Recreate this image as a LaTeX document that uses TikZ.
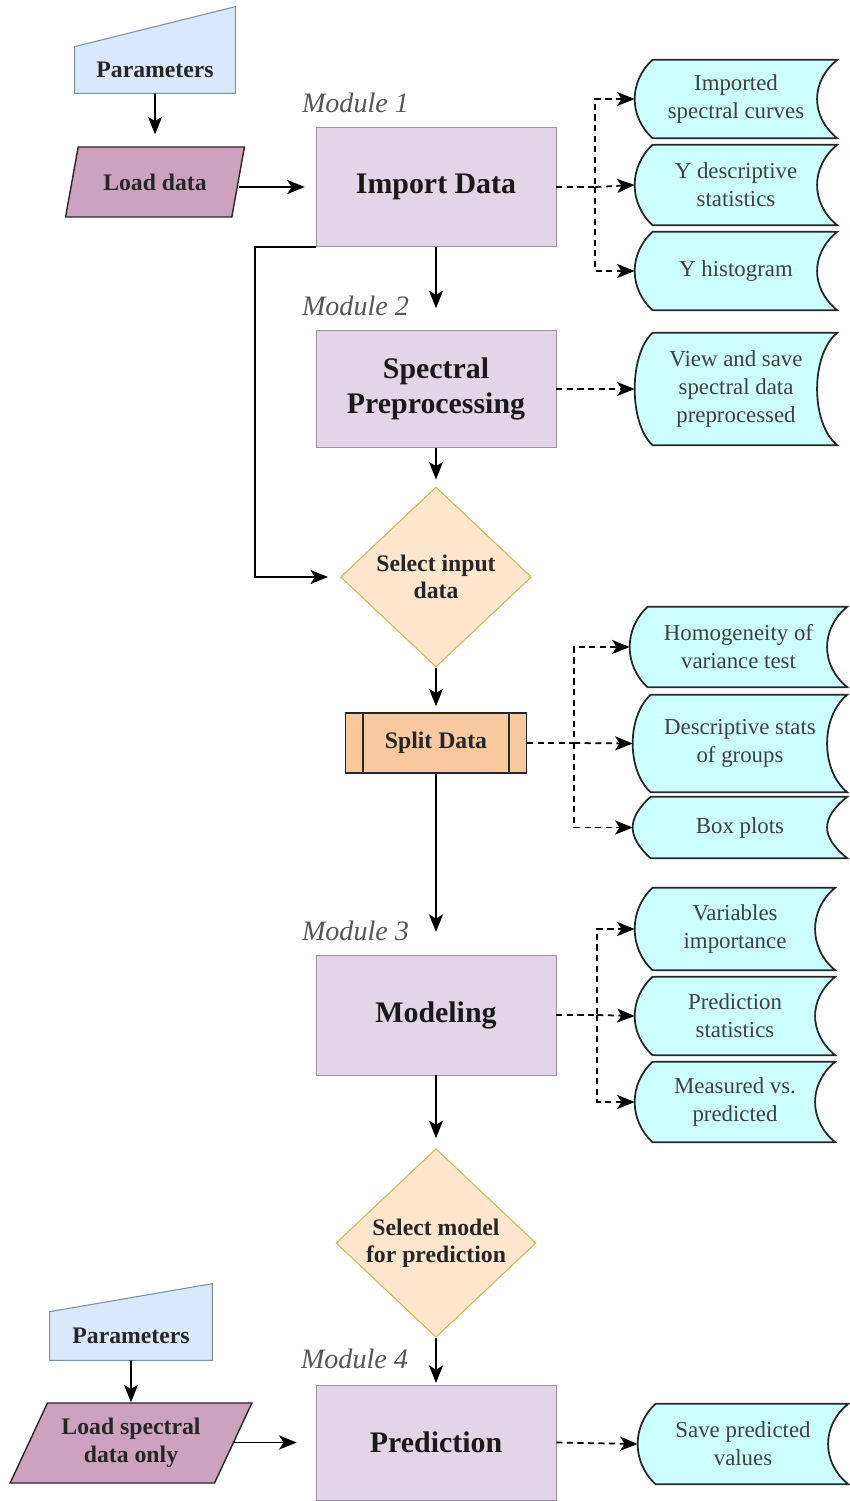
\documentclass[tikz,border=0pt]{standalone}
\usepackage{fontspec}
\setmainfont{Liberation Serif}
\usetikzlibrary{arrows.meta, positioning, shapes.geometric, calc, backgrounds}
\usepackage{xcolor}

\definecolor{paramfill}{HTML}{DAE8FC}
\definecolor{paramline}{HTML}{7A8FA8}
\definecolor{loadfill}{HTML}{CDA2BE}
\definecolor{modfill}{HTML}{E1D5E7}
\definecolor{modline}{HTML}{9A90A2}
\definecolor{decfill}{HTML}{FFE6CC}
\definecolor{decline}{HTML}{D6B656}
\definecolor{splitfill}{HTML}{F8C89E}
\definecolor{outfill}{HTML}{CCFFFF}
\definecolor{labelgray}{HTML}{555555}

\begin{document}
\begin{tikzpicture}[
    x=0.02cm, y=0.02cm,
    module/.style={draw=modline, fill=modfill, rectangle, minimum width=4.8cm,
                   minimum height=2.38cm, align=center, text=black!90,
                   font=\fontsize{17}{20}\selectfont\bfseries},
    param/.style={rectangle, minimum width=3.2cm, minimum height=0.92cm,
                  inner sep=0pt, text=black!85,
                  font=\fontsize{13.5}{16}\selectfont\bfseries},
    paramshape/.style={draw=paramline, fill=paramfill, line width=0.6pt},
    load/.style={trapezium, trapezium stretches=true, draw=black!85, fill=loadfill,
                 line width=0.8pt, align=center, inner sep=0pt, text=black!85,
                 font=\fontsize{13.5}{16}\selectfont\bfseries},
    decision/.style={diamond, draw=decline, fill=decfill, line width=0.6pt,
                     minimum width=3.82cm, minimum height=3.6cm, inner sep=0pt,
                     align=center, text=black!85,
                     font=\fontsize{13.5}{15.5}\selectfont\bfseries},
    splitbox/.style={draw=black!85, fill=splitfill, line width=0.8pt,
                     minimum width=3.62cm, minimum height=1.2cm, text=black!85,
                     font=\fontsize{13.5}{16}\selectfont\bfseries},
    output/.style={minimum width=4.04cm, inner sep=0pt, align=center,
                   text=black!75, font=\fontsize{13}{16}\selectfont},
    outshape/.style={draw=black!85, fill=outfill, line width=1pt},
    modlabel/.style={inner sep=0pt, text=labelgray,
                     font=\fontsize{16}{18}\selectfont\itshape},
    arrow/.style={-{Stealth[length=10pt,width=8pt,inset=2.5pt]}, line width=1pt, black},
    dasharrow/.style={arrow, dash pattern=on 3.5pt off 2.5pt},
]
% --- module 1
\node[param] (par1) at (155,-70) {Parameters};
\node[load, trapezium left angle=63, trapezium right angle=117,
      minimum width=3.6cm, minimum height=1.4cm] (load1) at (155,-182) {Load data};
\node[module] (imp) at (436,-187) {Import Data};
\node[modlabel, anchor=south west] (m1) at ($(imp.north west)+(-14,14)$) {Module 1};

\node[output, minimum height=1.56cm] (o1) at (736,-99) {Imported\\spectral curves};
\node[output, minimum height=1.6cm] (o2) at (736,-185) {Y descriptive\\statistics};
\node[output, minimum height=1.56cm] (o3) at (736,-271) {Y histogram};

% --- module 2
\node[module, minimum height=2.34cm] (spec) at (436,-389) {Spectral\\Preprocessing};
\node[modlabel, anchor=south west] (m2) at ($(spec.north west)+(-14,14)$) {Module 2};
\node[output, minimum height=2.24cm] (o4) at (736,-389)
     {View and save\\spectral data\\preprocessed};

\node[decision] (selin) at (436,-577) {Select input\\data};
\node[splitbox] (split) at (436,-743) {Split Data};

\node[output, minimum width=4.34cm, minimum height=1.6cm] (o5) at (738.5,-647)
     {Homogeneity of\\variance test};
\node[output, minimum width=4.28cm, minimum height=1.94cm] (o6) at (740,-743.5)
     {Descriptive stats\\of groups};
\node[output, minimum width=4.28cm, minimum height=1.22cm] (o7) at (740,-827.5)
     {Box plots};

% --- module 3
\node[module, minimum height=2.4cm] (model) at (436,-1015) {Modeling};
\node[modlabel, anchor=south west] (m3) at ($(model.north west)+(-14,13)$) {Module 3};
\node[output, minimum width=4cm, minimum height=1.64cm] (o8) at (735,-929)
     {Variables\\importance};
\node[output, minimum width=4cm, minimum height=1.56cm] (o9) at (735,-1016)
     {Prediction\\statistics};
\node[output, minimum width=4cm, minimum height=1.6cm] (o10) at (735,-1102)
     {Measured vs.\\predicted};

\node[decision, minimum width=4cm, minimum height=3.62cm] (selmod) at (436,-1243)
     {Select model\\for prediction};

% --- module 4
\node[param, minimum width=3.24cm, minimum height=0.96cm] (par2) at (131,-1336) {Parameters};
\node[load, trapezium left angle=58, trapezium right angle=122,
      minimum width=4.84cm, minimum height=1.6cm] (load2) at (131,-1443)
     {Load spectral\\data only};
\node[module, minimum height=2.3cm] (pred) at (436,-1442.5) {Prediction};
\node[modlabel, anchor=south west] (m4) at ($(pred.north west)+(-15,15)$) {Module 4};
\node[output, minimum width=4.2cm, minimum height=1.6cm] (o11) at (743,-1444)
     {Save predicted\\values};

% shapes behind the texts
\begin{scope}[on background layer]
  \draw[paramshape] (par1.south west) -- (par1.south east)
    -- ($(par1.north east)+(0,40)$) -- (par1.north west) -- cycle;
  \draw[paramshape] (par2.south west) -- (par2.south east)
    -- ($(par2.north east)+(0,28)$) -- (par2.north west) -- cycle;
  \foreach \n in {o1,o2,o3,o4,o5,o6,o7,o8,o9,o10,o11}
    \draw[outshape] ($(\n.north west)+(18,0)$) -- (\n.north east)
      .. controls ($(\n.north east)+(-27,-22)$) and ($(\n.south east)+(-27,22)$) .. (\n.south east)
      -- ($(\n.south west)+(18,0)$)
      .. controls ($(\n.south west)+(-6,22)$) and ($(\n.north west)+(-6,-22)$) .. ($(\n.north west)+(18,0)$)
      -- cycle;
\end{scope}
\draw[line width=0.8pt, black!85] ($(split.north west)+(18,0)$) -- ($(split.south west)+(18,0)$);
\draw[line width=0.8pt, black!85] ($(split.north east)+(-18,0)$) -- ($(split.south east)+(-18,0)$);

% main flow
\draw[arrow, shorten >=6.8pt] (par1) -- (load1);
\draw[arrow, shorten >=6.2pt] (load1.east |- imp.west) -- (imp.west);
\draw[arrow, shorten >=12.5pt] (imp) -- (spec);
\draw[arrow, shorten >=4pt] (spec) -- (selin);
\coordinate (byp) at ($(imp.south west)+(-61,0)$);
\draw[arrow, shorten >=6.8pt] (imp.south west) -- (byp) |- (selin.west);
\draw[arrow, shorten >=3.4pt] (selin) -- (split);
\draw[arrow, shorten >=13pt] (split) -- (model);
\draw[arrow, shorten >=5.7pt] (model) -- (selmod);
\draw[arrow, shorten >=1pt] (selmod) -- (pred);
\draw[arrow] (par2) -- (load2);
\draw[arrow, shorten >=10.8pt] (load2.east |- pred.west) -- (pred.west);

% outputs
\coordinate (j1) at ($(imp.east)+(39,0)$);
\draw[dasharrow] (imp.east) -- (j1) |- (o1.west);
\draw[dasharrow] (j1) -- (o2.west);
\draw[dasharrow] (j1) |- (o3.west);
\draw[dasharrow] (spec.east) -- (o4.west);
\coordinate (j2) at ($(split.east)+(47,0)$);
\draw[dasharrow] (split.east) -- (j2) |- (o5.west);
\draw[dasharrow] (j2) -- (o6.west);
\draw[dasharrow] (j2) |- (o7.west);
\coordinate (j3) at ($(model.east)+(41,0)$);
\draw[dasharrow] (model.east) -- (j3) |- (o8.west);
\draw[dasharrow] (j3) -- (o9.west);
\draw[dasharrow] (j3) |- (o10.west);
\draw[dasharrow] (pred.east) -- (o11.west);

\useasboundingbox (0,0) rectangle (848,-1501);
\end{tikzpicture}
\end{document}
